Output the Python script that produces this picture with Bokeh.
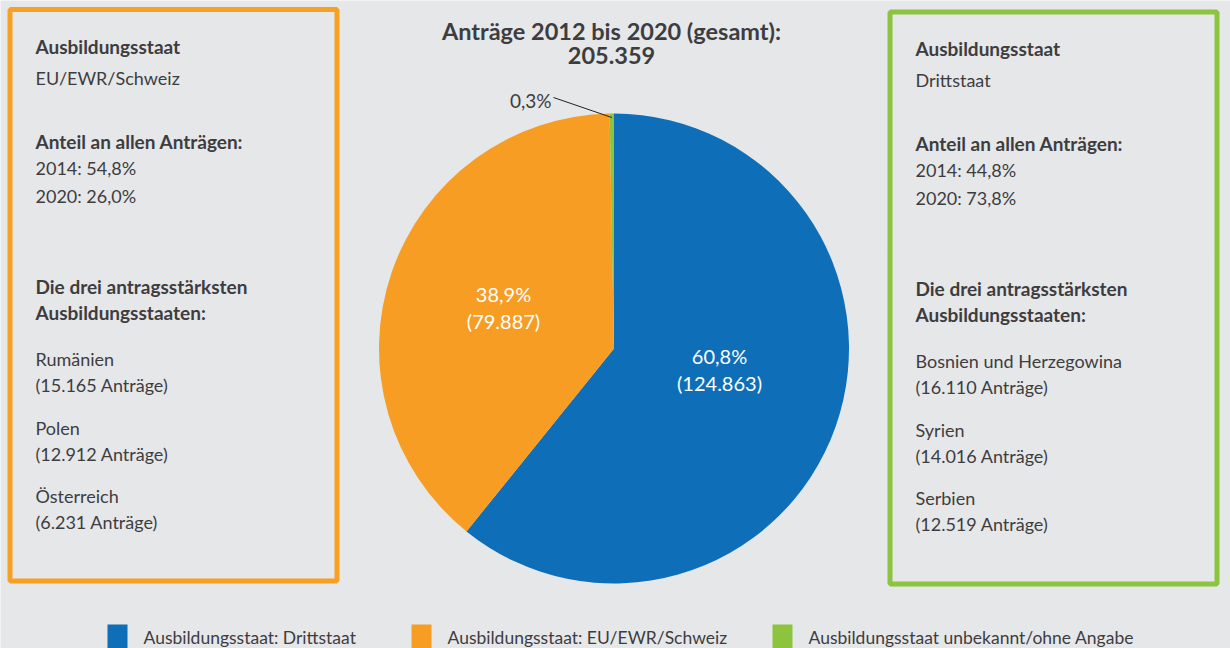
from bokeh.plotting import figure
from bokeh.models import Range1d, ColumnDataSource
from bokeh.core.properties import value
from bokeh.embed import file_html
from bokeh.resources import INLINE
import numpy as np

# ---------------- data ----------------
slice_names = ["Ausbildungsstaat: Drittstaat",
               "Ausbildungsstaat: EU/EWR/Schweiz",
               "Ausbildungsstaat unbekannt/ohne Angabe"]
slice_counts = [124863, 79887, 609]
slice_pct_labels = ["60,8%", "38,9%", "0,3%"]
slice_count_labels = ["(124.863)", "(79.887)", ""]
slice_colors = ["#0e6eb8", "#f79d24", "#8cc43e"]

title_lines = ["Anträge 2012 bis 2020 (gesamt):", "205.359"]

left_head = ["Ausbildungsstaat", "EU/EWR/Schweiz"]
left_share = ["2014: 54,8%", "2020: 26,0%"]
left_top = ["Rumänien", "(15.165 Anträge)", "Polen", "(12.912 Anträge)",
            "Österreich", "(6.231 Anträge)"]

right_head = ["Ausbildungsstaat", "Drittstaat"]
right_share = ["2014: 44,8%", "2020: 73,8%"]
right_top = ["Bosnien und Herzegowina", "(16.110 Anträge)", "Syrien",
             "(14.016 Anträge)", "Serbien", "(12.519 Anträge)"]

# ---------------- styling ----------------
W, H = 1230, 648
BG = "#e6e7e9"
TXT = "#3d3d3f"
FONT = "Lato"

def Y(sy):
    return H - sy

p = figure(width=W, height=H, x_range=Range1d(0, W), y_range=Range1d(0, H),
           output_backend="svg", toolbar_location=None, min_border=0,
           background_fill_color=BG, border_fill_color=BG, outline_line_color=None)
p.axis.visible = False
p.grid.visible = False

# ---------------- pie ----------------
total = sum(slice_counts)
fr = np.array(slice_counts) / total
cum = np.concatenate([[0], np.cumsum(fr)])
start = np.pi / 2 - cum[:-1] * 2 * np.pi
end = np.pi / 2 - cum[1:] * 2 * np.pi
cx, cy, R = 613.5, Y(348), 235
src = ColumnDataSource(dict(start=start, end=end, color=slice_colors,
                            x=[cx] * 3, y=[cy] * 3))
p.wedge(x="x", y="y", radius=R, radius_units="screen", start_angle="start",
        end_angle="end", direction="clock", fill_color="color", line_color=None,
        source=src)

# slice labels (white)
lab_pos = [(719, 355), (503, 293)]
for i, (lx, ly) in enumerate(lab_pos):
    p.text(x=[lx], y=[Y(ly)], text=[slice_pct_labels[i]], text_align="center",
           text_baseline="middle", text_color="white", text_font_size="20px",
           text_font=value(FONT))
    p.text(x=[lx], y=[Y(ly + 27)], text=[slice_count_labels[i]], text_align="center",
           text_baseline="middle", text_color="white", text_font_size="20px",
           text_font=value(FONT))

# small slice label with leader
ang_mid = (start[2] + end[2]) / 2
p.segment(x0=[553], y0=[Y(97)], x1=[cx + (R - 4) * np.cos(ang_mid)],
          y1=[cy + (R - 4) * np.sin(ang_mid)], line_color="#222222", line_width=1)
p.text(x=[551], y=[Y(100)], text=[slice_pct_labels[2]], text_align="right",
       text_baseline="middle", text_color=TXT, text_font_size="19px",
       text_font=value(FONT))

# title
p.text(x=[611, 611], y=[Y(30), Y(55)], text=title_lines, text_align="center",
       text_baseline="middle", text_color=TXT, text_font_size="23.5px",
       text_font_style="bold", text_font=value(FONT))

# ---------------- side boxes ----------------
p.quad(left=[9.5], right=[336.5], top=[Y(9)], bottom=[Y(580.5)], fill_color=None,
       line_color="#f7a021", line_width=5)
p.quad(left=[889.5], right=[1216.5], top=[Y(11.5)], bottom=[Y(583.5)], fill_color=None,
       line_color="#8cc43e", line_width=5)

def box_text(x0, head, share, top, dy):
    def t(txt, sy, bold=False):
        p.text(x=[x0], y=[Y(sy + dy)], text=[txt], text_align="left",
               text_baseline="middle", text_color=TXT,
               text_font_size="19px" if bold else "18px",
               text_font_style="bold" if bold else "normal", text_font=value(FONT))
    t(head[0], 46, True)
    t(head[1], 77)
    t("Anteil an allen Anträgen:", 141, True)
    t(share[0], 167)
    t(share[1], 195)
    t("Die drei antragsstärksten", 286, True)
    t("Ausbildungsstaaten:", 312, True)
    ys = [358, 384, 427, 453, 495, 521]
    for s, yy in zip(top, ys):
        t(s, yy)

box_text(35, left_head, left_share, left_top, 0)
box_text(915, right_head, right_share, right_top, 2)

# ---------------- legend ----------------
leg_x = [107, 411, 772]
for lx, name, col in zip(leg_x, slice_names, slice_colors):
    p.quad(left=[lx], right=[lx + 20], top=[Y(624)], bottom=[Y(650)],
           fill_color=col, line_color=None)
    p.text(x=[lx + 36], y=[Y(637)], text=[name], text_align="left",
           text_baseline="middle", text_color=TXT, text_font_size="17.5px",
           text_font=value(FONT))

open("out.html", "w").write(file_html(p, INLINE))
